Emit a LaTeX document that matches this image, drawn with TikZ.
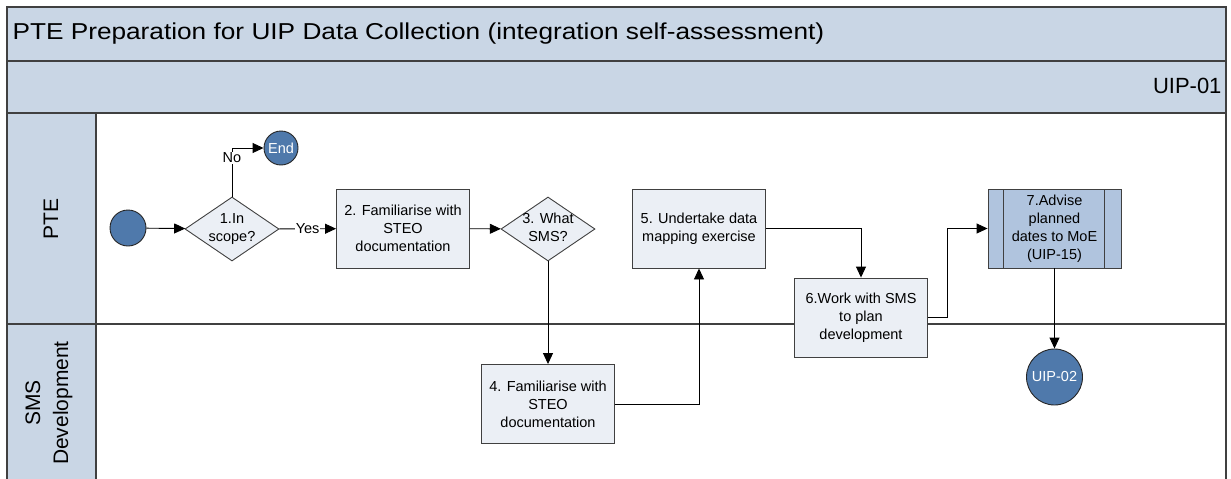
\documentclass[tikz,border=0pt]{standalone}
\usepackage{fontspec}
\setmainfont{Liberation Sans}
\usetikzlibrary{shapes.geometric,arrows.meta}

\definecolor{bandblue}{RGB}{201,214,229}
\definecolor{boxfill}{RGB}{235,239,245}
\definecolor{subfill}{RGB}{176,196,222}
\definecolor{termfill}{RGB}{79,121,171}
\definecolor{edgegrey}{RGB}{64,64,64}

\tikzset{
  lane/.style={draw=edgegrey, line width=1.2pt},
  boxtext/.style={font=\fontsize{14.5}{18}\selectfont, align=center},
  process/.style={rectangle, draw=edgegrey, fill=boxfill, line width=0.9pt,
    minimum width=133pt, minimum height=79pt, inner sep=2pt, boxtext},
  subproc/.style={process, fill=subfill, path picture={
    \draw[edgegrey, line width=0.9pt]
      ([xshift=15pt]path picture bounding box.north west) -- ([xshift=15pt]path picture bounding box.south west)
      ([xshift=-17pt]path picture bounding box.north east) -- ([xshift=-17pt]path picture bounding box.south east);}},
  decision/.style={diamond, draw=edgegrey, fill=boxfill, line width=0.9pt,
    minimum width=94pt, minimum height=64pt, inner sep=0pt},
  terminal/.style={circle, draw=black!85, fill=termfill, line width=0.9pt,
    inner sep=0pt, text=white, boxtext},
  flow/.style={-{Triangle[length=11pt,width=10pt]}, line width=0.9pt},
  lbl/.style={fill=white, inner sep=1pt, boxtext}
}

\begin{document}
\begin{tikzpicture}[x=1pt, y=-1pt]
\useasboundingbox (0,0) rectangle (1231,479);

% Header bands and lanes
\fill[bandblue] (7,7) rectangle (1226,113);
\fill[bandblue] (7,113) rectangle (96,479);
\draw[lane] (7,479) -- (7,7) -- (1226,7) -- (1226,479);
\draw[lane] (7,61) -- (1226,61);
\draw[lane] (7,113) -- (1226,113);
\draw[lane] (7,324) -- (1226,324);
\draw[lane] (96,113) -- (96,479);

\node[anchor=west] (title) at (9,34)
  {\fontsize{23}{27}\selectfont\scalebox{1.14}[1]{PTE Preparation for UIP Data Collection (integration self-assessment)}};
\node[anchor=east, font=\fontsize{22}{26}\selectfont] (ref) at (1225,86) {UIP-01};
\node[rotate=90, font=\fontsize{21}{28}\selectfont] (pte) at (51,219) {PTE};
\node[rotate=90, align=center, font=\fontsize{21}{28}\selectfont] (sms) at (49,403) {SMS\\Development};

% Steps
\node[terminal, minimum size=36pt] (start) at (128,228) {};
\node[decision, label={[boxtext]center:{1.In\\scope?}}] (d1) at (232,229) {};
\node[terminal, minimum size=34pt] (end) at (281,148) {End};
\node[process] (p2) at (403,228.5) {2. Familiarise with\\STEO\\documentation};
\node[decision, label={[boxtext, yshift=2pt]center:{3. What\\SMS?}}] (d3) at (548,229) {};
\node[process] (p4) at (548,404) {4. Familiarise with\\STEO\\documentation};
\node[process] (p5) at (699,228.5) {5. Undertake data\\mapping exercise};
\node[process] (p6) at (861,317.5) {6.Work with SMS\\to plan\\development};
\node[subproc] (p7) at (1054.5,228.5) {7.Advise\\planned\\dates to MoE\\(UIP-15)};
\node[terminal, minimum size=56pt] (uip) at (1054.5,377) {UIP-02};

% Flow
\draw[flow] (start) -- (d1);
\draw[flow] (d1.north) |- node[lbl, pos=0.4] {No} (end);
\draw[flow] (d1) -- node[lbl] {Yes} (p2);
\draw[flow] (p2) -- (d3);
\draw[flow] (d3.south) -- (p4);
\draw[flow] (p4.east) -| (p5.south);
\draw[flow] (p5.east) -| (p6.north);
\draw[flow] (p6.east) -- ++(19,0) |- (p7.west);
\draw[flow] (p7.south) -- (uip.north);
\end{tikzpicture}
\end{document}
